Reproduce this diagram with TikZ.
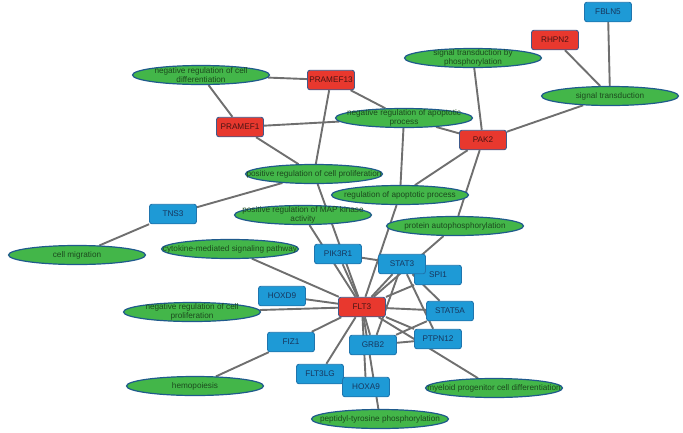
\documentclass[tikz,border=0pt]{standalone}
\usepackage{fontspec}
\setmainfont{Liberation Sans}
\usetikzlibrary{shapes,positioning,backgrounds}
\definecolor{ppiGene}{HTML}{1E9AD6}
\definecolor{ppiGeneLine}{HTML}{1F75AE}
\definecolor{ppiGeneText}{HTML}{17375E}
\definecolor{ppiHit}{HTML}{E8382E}
\definecolor{ppiHitLine}{HTML}{3F5A8C}
\definecolor{ppiHitText}{HTML}{4A1414}
\definecolor{ppiTerm}{HTML}{43B649}
\definecolor{ppiTermLine}{HTML}{1F5A8C}
\definecolor{ppiTermText}{HTML}{1C4A1E}
\definecolor{ppiEdge}{HTML}{6F6F6F}
\tikzset{
    ppiBoxBase/.style={
        rectangle,
        rounded corners=2.5pt,
        minimum width=47pt,
        minimum height=19.5pt,
        inner sep=1pt,
        line width=0.9pt,
        font=\fontsize{8.2}{9.6}\selectfont
    },
    % Node kinds
    gene/.style={ppiBoxBase, fill=ppiGene, draw=ppiGeneLine, text=ppiGeneText},
    hit/.style={ppiBoxBase, fill=ppiHit, draw=ppiHitLine, text=ppiHitText},
    term/.style={
        ellipse,
        fill=ppiTerm,
        draw=ppiTermLine,
        line width=1.2pt,
        minimum width=137pt,
        minimum height=19pt,
        inner xsep=-45pt,
        inner ysep=-20pt,
        align=center,
        text=ppiTermText,
        font=\fontsize{8.2}{9.6}\selectfont
    },
    % Edges
    ppiLink/.style={draw=ppiEdge, line width=1.9pt}
}

\begin{document}
\begin{tikzpicture}[x=1pt, y=-1pt]
    \useasboundingbox (0,0) rectangle (683,432);

    % GO terms
    \node[term] (negcelldiff) at (201,75) {negative regulation of cell\\differentiation};
    \node[term] (sigphos) at (473,58) {signal transduction by\\phosphorylation};
    \node[term] (sigtrans) at (610,96) {signal transduction};
    \node[term] (negapo) at (404,118) {negative regulation of apoptotic\\process};
    \node[term] (poscellprolif) at (314,174) {positive regulation of cell proliferation};
    \node[term] (regapo) at (400,195) {regulation of apoptotic process};
    \node[term] (posmapk) at (303,215) {positive regulation of MAP kinase\\activity};
    \node[term] (autophos) at (455,226) {protein autophosphorylation};
    \node[term] (cellmig) at (77,255) {cell migration};
    \node[term] (cytokine) at (230,249) {cytokine-mediated signaling pathway};
    \node[term] (negcellprolif) at (192,312) {negative regulation of cell\\proliferation};
    \node[term] (hemopoiesis) at (195,386) {hemopoiesis};
    \node[term] (peptidyl) at (380,419) {peptidyl-tyrosine phosphorylation};
    \node[term] (myeloid) at (494,388) {myeloid progenitor cell differentiation};

    % Genes
    \node[gene] (fbln5) at (608,12) {FBLN5};
    \node[hit] (rhpn2) at (555,40) {RHPN2};
    \node[hit] (pramef13) at (331,80) {PRAMEF13};
    \node[hit] (pramef1) at (240,127) {PRAMEF1};
    \node[hit] (pak2) at (483,140) {PAK2};
    \node[gene] (tns3) at (173,214) {TNS3};
    \node[gene] (pik3r1) at (338,254) {PIK3R1};
    \node[gene] (spi1) at (438,275) {SPI1};
    \node[gene] (stat3) at (402,264) {STAT3};
    \node[gene] (hoxd9) at (282,296) {HOXD9};
    \node[hit] (flt3) at (362,307) {FLT3};
    \node[gene] (stat5a) at (450,311) {STAT5A};
    \node[gene] (ptpn12) at (438,339) {PTPN12};
    \node[gene] (grb2) at (373,345) {GRB2};
    \node[gene] (fiz1) at (291,342) {FIZ1};
    \node[gene] (flt3lg) at (320,374) {FLT3LG};
    \node[gene] (hoxa9) at (366,387) {HOXA9};

    \begin{scope}[on background layer]
    \draw[ppiLink] (fbln5) -- (sigtrans);
    \draw[ppiLink] (rhpn2) -- (sigtrans);
    \draw[ppiLink] (sigtrans) -- (pak2);
    \draw[ppiLink] (sigphos) -- (pak2);
    \draw[ppiLink] (negapo) -- (pak2);
    \draw[ppiLink] (regapo) -- (pak2);
    \draw[ppiLink] (autophos) -- (pak2);
    \draw[ppiLink] (pramef13) -- (negcelldiff);
    \draw[ppiLink] (pramef13) -- (negapo);
    \draw[ppiLink] (pramef13) -- (poscellprolif);
    \draw[ppiLink] (pramef1) -- (negcelldiff);
    \draw[ppiLink] (pramef1) -- (negapo);
    \draw[ppiLink] (pramef1) -- (poscellprolif);
    \draw[ppiLink] (tns3) -- (poscellprolif);
    \draw[ppiLink] (tns3) -- (cellmig);
    \draw[ppiLink] (negapo) -- (regapo);
    \draw[ppiLink] (poscellprolif) -- (flt3);
    \draw[ppiLink] (posmapk) -- (flt3);
    \draw[ppiLink] (regapo) -- (flt3);
    \draw[ppiLink] (autophos) -- (flt3);
    \draw[ppiLink] (cytokine) -- (flt3);
    \draw[ppiLink] (pik3r1) -- (flt3);
    \draw[ppiLink] (pik3r1) -- (stat3);
    \draw[ppiLink] (stat3) -- (flt3);
    \draw[ppiLink] (spi1) -- (flt3);
    \draw[ppiLink] (stat5a) -- (flt3);
    \draw[ppiLink] (ptpn12) -- (flt3);
    \draw[ppiLink] (grb2) -- (flt3);
    \draw[ppiLink] (hoxd9) -- (flt3);
    \draw[ppiLink] (negcellprolif) -- (flt3);
    \draw[ppiLink] (fiz1) -- (flt3);
    \draw[ppiLink] (fiz1) -- (hemopoiesis);
    \draw[ppiLink] (flt3lg) -- (flt3);
    \draw[ppiLink] (hoxa9) -- (flt3);
    \draw[ppiLink] (peptidyl) -- (flt3);
    \draw[ppiLink] (myeloid) -- (flt3);
    \draw[ppiLink] (stat3) -- (grb2);
    \draw[ppiLink] (stat3) -- (ptpn12);
    \draw[ppiLink] (stat3) -- (stat5a);
    \draw[ppiLink] (stat3) -- (spi1);
    \draw[ppiLink] (grb2) -- (ptpn12);
    \draw[ppiLink] (grb2) -- (stat5a);
    \end{scope}
\end{tikzpicture}
\end{document}
